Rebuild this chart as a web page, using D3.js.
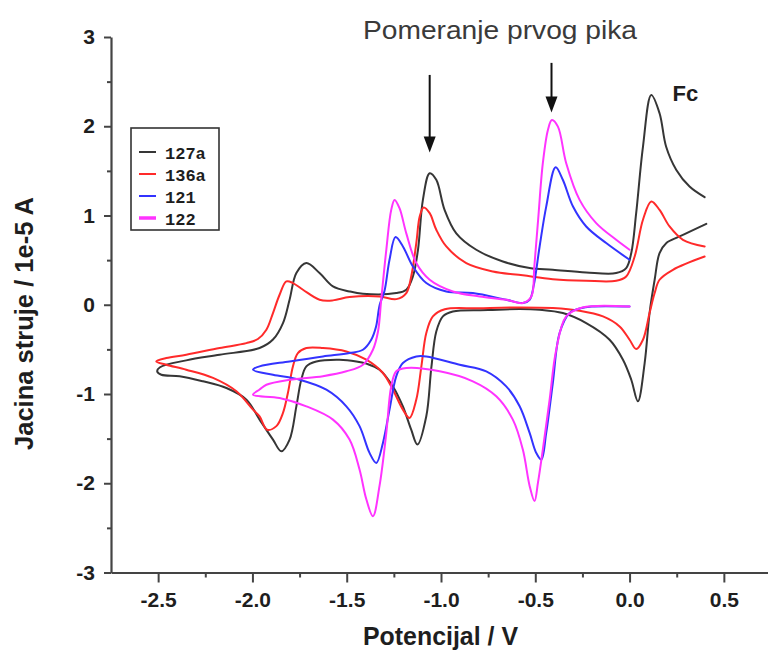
<!DOCTYPE html>
<html><head><meta charset="utf-8">
<script src="https://cdn.jsdelivr.net/npm/d3@7"></script>
<style>body{margin:0;background:#fff;} svg{display:block;}</style>
</head><body>
<svg id="chart" width="768" height="652"></svg>
<script>
// ---------- data ----------
const seriesNames  = ["127a", "136a", "121", "122"];
const seriesColors = ["#363636", "#ff2a2a", "#3333ff", "#ff33ff"];

// 127a (black): cathodic scan from +0.4 V to -2.5 V, then anodic back to +0.4 V
const v127a = [0.407,0.265,0.194,0.159,0.133,0.106,0.080,0.044,0.009,-0.035,-0.106,-0.23,-0.354,-0.477,-0.583,-0.75,-0.937,-0.99,-1.025,-1.051,-1.078,-1.125,-1.158,-1.202,-1.255,-1.326,-1.396,-1.449,-1.538,-1.661,-1.714,-1.741,-1.767,-1.803,-1.847,-1.891,-1.962,-2.032,-2.138,-2.262,-2.386,-2.483,-2.505,
  -2.49,-2.351,-2.174,-1.962,-1.891,-1.838,-1.803,-1.767,-1.714,-1.644,-1.573,-1.485,-1.414,-1.237,-1.184,-1.149,-1.122,-1.096,-1.060,-1.025,-0.981,-0.919,-0.813,-0.672,-0.53,-0.407,-0.23,-0.071,-0.018,0.009,0.035,0.071,0.115,0.159,0.194,0.248,0.318,0.398];
const i127a = [0.907,0.765,0.69,0.579,0.28,-0.093,-0.653,-1.082,-0.84,-0.616,-0.392,-0.205,-0.093,-0.056,-0.048,-0.06,-0.075,-0.13,-0.30,-0.70,-1.25,-1.567,-1.40,-1.14,-0.915,-0.728,-0.66,-0.635,-0.616,-0.635,-0.69,-0.84,-1.138,-1.511,-1.642,-1.511,-1.287,-1.063,-0.933,-0.858,-0.80,-0.784,-0.746,
  -0.70,-0.623,-0.56,-0.485,-0.39,-0.205,0.056,0.355,0.467,0.355,0.205,0.149,0.123,0.131,0.168,0.317,0.616,1.175,1.474,1.40,1.063,0.80,0.616,0.485,0.411,0.392,0.362,0.355,0.411,0.579,1.026,1.77,2.35,2.146,1.77,1.51,1.324,1.205];

// 136a (red)
const v136a = [0.398,0.23,0.159,0.133,0.106,0.071,0.035,0.0,-0.053,-0.141,-0.265,-0.407,-0.583,-0.8,-0.98,-1.043,-1.078,-1.104,-1.131,-1.167,-1.202,-1.255,-1.308,-1.396,-1.502,-1.626,-1.714,-1.759,-1.785,-1.812,-1.838,-1.873,-1.922,-1.962,-1.997,-2.085,-2.209,-2.351,-2.457,-2.51,
  -2.457,-2.351,-2.174,-2.032,-1.971,-1.926,-1.891,-1.856,-1.820,-1.785,-1.732,-1.644,-1.573,-1.485,-1.326,-1.237,-1.184,-1.158,-1.131,-1.113,-1.092,-1.06,-1.025,-0.972,-0.866,-0.725,-0.566,-0.407,-0.23,-0.071,-0.018,0.027,0.071,0.115,0.159,0.212,0.283,0.398];
const i136a = [0.54,0.392,0.28,0.131,-0.093,-0.392,-0.496,-0.392,-0.243,-0.131,-0.067,-0.037,-0.03,-0.04,-0.05,-0.13,-0.317,-0.69,-1.063,-1.268,-1.175,-0.952,-0.765,-0.616,-0.523,-0.485,-0.485,-0.541,-0.69,-0.989,-1.212,-1.36,-1.40,-1.25,-1.175,-0.97,-0.82,-0.728,-0.672,-0.635,
  -0.597,-0.56,-0.485,-0.43,-0.384,-0.28,-0.093,0.112,0.261,0.243,0.168,0.056,0.049,0.086,0.093,0.063,0.131,0.317,0.691,0.988,1.09,1.026,0.84,0.653,0.467,0.373,0.33,0.287,0.269,0.269,0.317,0.541,0.952,1.157,1.063,0.877,0.728,0.653];

// 121 (blue)
const v121 = [0.0,-0.2,-0.26,-0.318,-0.371,-0.407,-0.442,-0.468,-0.495,-0.53,-0.583,-0.654,-0.76,-0.901,-1.078,-1.131,-1.202,-1.237,-1.273,-1.308,-1.343,-1.379,-1.432,-1.502,-1.608,-1.75,-1.891,-1.997,
  -1.962,-1.803,-1.626,-1.485,-1.414,-1.37,-1.345,-1.325,-1.30,-1.273,-1.241,-1.202,-1.149,-1.078,-0.972,-0.831,-0.654,-0.566,-0.53,-0.508,-0.477,-0.442,-0.392,-0.354,-0.30,-0.23,-0.124,0.0];
const i121 = [-0.02,-0.02,-0.04,-0.093,-0.317,-0.877,-1.436,-1.735,-1.66,-1.436,-1.138,-0.915,-0.746,-0.672,-0.579,-0.579,-0.653,-0.80,-1.175,-1.548,-1.772,-1.66,-1.36,-1.138,-0.952,-0.84,-0.784,-0.728,
  -0.69,-0.635,-0.579,-0.541,-0.504,-0.392,-0.25,0.0,0.15,0.504,0.758,0.653,0.429,0.243,0.149,0.131,0.056,0.019,0.056,0.22,0.653,1.10,1.54,1.40,1.10,0.877,0.691,0.504];

// 122 (magenta)
const v122 = [0.0,-0.25,-0.336,-0.389,-0.424,-0.46,-0.486,-0.504,-0.53,-0.566,-0.619,-0.707,-0.831,-1.007,-1.184,-1.237,-1.264,-1.29,-1.326,-1.361,-1.396,-1.432,-1.485,-1.573,-1.714,-1.856,-1.997,
  -1.962,-1.926,-1.803,-1.626,-1.502,-1.414,-1.361,-1.334,-1.317,-1.29,-1.264,-1.246,-1.22,-1.184,-1.131,-1.06,-0.937,-0.795,-0.654,-0.566,-0.521,-0.505,-0.485,-0.46,-0.433,-0.412,-0.38,-0.336,-0.265,-0.177,-0.071,0.0];
const i122 = [-0.02,-0.03,-0.13,-0.504,-1.063,-1.623,-1.996,-2.20,-2.03,-1.623,-1.287,-1.026,-0.858,-0.746,-0.709,-0.746,-0.915,-1.436,-2.03,-2.37,-2.18,-1.847,-1.511,-1.287,-1.138,-1.045,-1.008,
  -0.95,-0.896,-0.84,-0.80,-0.746,-0.672,-0.504,-0.3,0.056,0.616,1.063,1.175,1.082,0.80,0.467,0.28,0.149,0.093,0.056,0.019,0.093,0.43,0.95,1.586,1.959,2.07,1.996,1.586,1.175,0.915,0.728,0.616];

const xTicks = [-2.5, -2.0, -1.5, -1.0, -0.5, 0.0, 0.5];
const xMinorTicks = [-2.25, -1.75, -1.25, -0.75, -0.25, 0.25, 0.75];
const yTicks = [-3, -2, -1, 0, 1, 2, 3];
const yMinorTicks = [-2.5, -1.5, -0.5, 0.5, 1.5, 2.5];

const xTitle = "Potencijal / V";
const yTitle = "Jacina struje / 1e-5 A";
const noteTitle = "Pomeranje prvog pika";
const fcLabel = "Fc";
// arrows: potential, top current, tip current
const arrowV = [-1.06, -0.414];
const arrowTop = [2.575, 2.71];
const arrowTip = [1.707, 2.155];

// ---------- drawing ----------
const svg = d3.select("#chart");
const x = d3.scaleLinear().domain([-2.75, 0.75]).range([111, 771]);
const y = d3.scaleLinear().domain([-3, 3]).range([572.5, 37]);

const axisColor = "#444";
const labelFont = "'Liberation Sans', Arial, sans-serif";

// curves
const series = [
  {v: v127a, i: i127a}, {v: v136a, i: i136a}, {v: v121, i: i121}, {v: v122, i: i122}
];
const line = d3.line().x(d => x(d[0])).y(d => y(d[1])).curve(d3.curveCatmullRom.alpha(0.5));
series.forEach((s, k) => {
  const pts = s.v.map((vv, j) => [vv, s.i[j]]);
  svg.append("path").datum(pts)
    .attr("d", line).attr("fill", "none")
    .attr("stroke", seriesColors[k]).attr("stroke-width", 2)
    .attr("stroke-linejoin", "round").attr("stroke-linecap", "round");
});

// axes
svg.append("g").attr("transform", `translate(${x(-2.75)},0)`)
  .call(d3.axisLeft(y).tickValues(yTicks).tickFormat(d => String(d)).tickSize(7).tickPadding(9).tickSizeOuter(0));
svg.append("g").attr("transform", `translate(${x(-2.75)},0)`)
  .call(d3.axisLeft(y).tickValues(yMinorTicks).tickFormat("").tickSize(4).tickSizeOuter(0))
  .call(g => g.select(".domain").remove());
const xAxis = svg.append("g").attr("transform", `translate(0,${y(-3)})`)
  .call(d3.axisBottom(x).tickValues(xTicks).tickFormat(d => d.toFixed(1)).tickSize(10).tickPadding(10).tickSizeOuter(0));
svg.append("g").attr("transform", `translate(0,${y(-3)})`)
  .call(d3.axisBottom(x).tickValues(xMinorTicks).tickFormat("").tickSize(5).tickSizeOuter(0))
  .call(g => g.select(".domain").remove());

svg.selectAll(".domain").attr("stroke", axisColor).attr("stroke-width", 2.2);
svg.selectAll(".tick line").attr("stroke", axisColor).attr("stroke-width", 2);
svg.selectAll(".tick text").attr("font-family", labelFont).attr("font-weight", "bold")
  .attr("font-size", 21).attr("fill", "#1e1e1e");
xAxis.selectAll(".tick text").attr("y", 0).attr("dy", 0).attr("transform", "translate(0,34.5)");

// axis titles
svg.append("text").text(xTitle)
  .attr("x", (363 + 518) / 2).attr("y", 645).attr("text-anchor", "middle")
  .attr("font-family", labelFont).attr("font-weight", "bold").attr("font-size", 25)
  .attr("textLength", 155).attr("lengthAdjust", "spacingAndGlyphs").attr("fill", "#1e1e1e");
svg.append("text").text(yTitle)
  .attr("transform", "rotate(-90)")
  .attr("x", -323.5).attr("y", 33).attr("text-anchor", "middle")
  .attr("font-family", labelFont).attr("font-weight", "bold").attr("font-size", 25)
  .attr("textLength", 253).attr("lengthAdjust", "spacingAndGlyphs").attr("fill", "#1e1e1e");

// annotation
svg.append("text").text(noteTitle)
  .attr("x", 363).attr("y", 39)
  .attr("font-family", labelFont).attr("font-size", 25)
  .attr("textLength", 274).attr("lengthAdjust", "spacingAndGlyphs").attr("fill", "#3a3a3a");
svg.append("text").text(fcLabel)
  .attr("x", x(0.228)).attr("y", y(2.28))
  .attr("font-family", labelFont).attr("font-weight", "bold").attr("font-size", 22).attr("fill", "#1e1e1e");

arrowV.forEach((av, k) => {
  const ax = x(av), yt = y(arrowTop[k]), yp = y(arrowTip[k]);
  svg.append("line").attr("x1", ax).attr("x2", ax).attr("y1", yt).attr("y2", yp - 12)
    .attr("stroke", "#111").attr("stroke-width", 2);
  svg.append("path").attr("d", `M${ax - 6},${yp - 16} L${ax + 6},${yp - 16} L${ax},${yp} Z`)
    .attr("fill", "#111");
});

// legend
const lg = svg.append("g");
lg.append("rect").attr("x", 131).attr("y", 128).attr("width", 88).attr("height", 102)
  .attr("fill", "#fff").attr("stroke", "#333").attr("stroke-width", 1.6);
seriesNames.forEach((name, k) => {
  const ly = 152 + k * 22;
  lg.append("line").attr("x1", 139).attr("x2", 156).attr("y1", ly).attr("y2", ly)
    .attr("stroke", seriesColors[k]).attr("stroke-width", k === 3 ? 3.5 : 2);
  lg.append("text").text(name).attr("x", 165).attr("y", ly + 6.5)
    .attr("font-family", "'Liberation Mono', 'Courier New', monospace").attr("font-weight", "bold")
    .attr("font-size", 17).attr("fill", "#1e1e1e");
});
</script>
</body></html>
